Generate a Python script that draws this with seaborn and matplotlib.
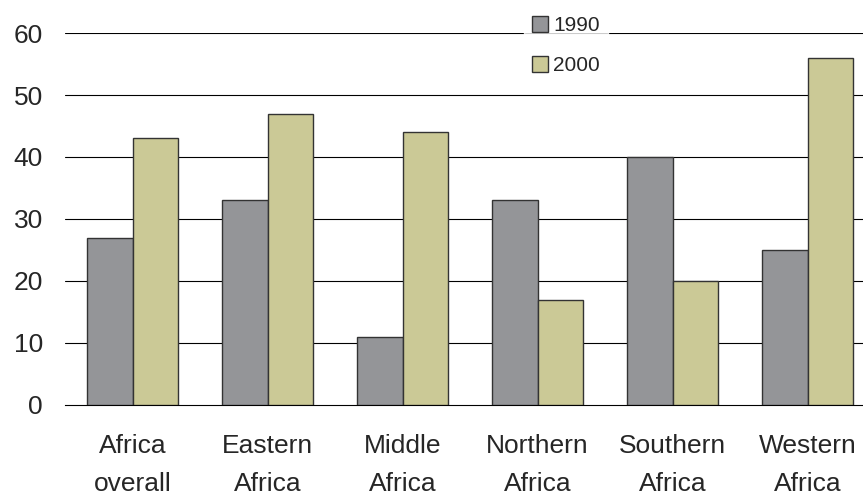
import numpy as np
import pandas as pd
import seaborn as sns
import matplotlib.pyplot as plt
from matplotlib.ticker import FixedLocator

regions = ['Africa\noverall', 'Eastern\nAfrica', 'Middle\nAfrica',
           'Northern\nAfrica', 'Southern\nAfrica', 'Western\nAfrica']
values_1990 = [27, 33, 11, 33, 40, 25]
values_2000 = [43, 47, 44, 17, 20, 56]
years = ['1990', '2000']
colors = ['#949598', '#CBC996']

df = pd.DataFrame({
    'region': regions * 2,
    'year': [years[0]] * len(regions) + [years[1]] * len(regions),
    'value': values_1990 + values_2000,
})

sns.set_style('white')
plt.rcParams['font.family'] = ['Liberation Sans', 'DejaVu Sans']

fig = plt.figure(figsize=(8.63, 5.0), dpi=100)
ax = fig.add_axes([65 / 863, 95 / 500, 810 / 863, 372 / 500])

sns.barplot(data=df, x='region', y='value', hue='year', palette=colors,
            width=0.675, edgecolor='#333333', linewidth=1, saturation=1,
            ax=ax, zorder=3)

ax.set_ylim(0, 60)
ax.set_xlim(-0.5, len(regions) - 0.5)
ax.set_yticks(range(0, 61, 10))
ax.tick_params(axis='y', length=0, pad=16, labelsize=19)
for y in range(10, 61, 10):
    ax.axhline(y, color='black', linewidth=0.8, zorder=1)

# category boundaries as tick marks, labels on minor ticks
ax.set_xticks(np.arange(-0.5, len(regions), 1.0))
ax.set_xticklabels([''] * (len(regions) + 1))
ax.xaxis.set_minor_locator(FixedLocator(range(len(regions))))
ax.set_xticklabels(regions, minor=True, linespacing=1.75)
ax.tick_params(axis='x', which='major', length=7, width=0.8, color='black', direction='out')
ax.tick_params(axis='x', which='minor', length=0, pad=21, labelsize=19)
ax.set_xlabel('')
ax.set_ylabel('')

for side in ['left', 'right', 'top']:
    ax.spines[side].set_visible(False)
ax.spines['bottom'].set_color('black')
ax.spines['bottom'].set_linewidth(0.8)

handles, labels = ax.get_legend_handles_labels()
leg = ax.legend(handles, labels, loc='upper left',
                bbox_to_anchor=(524 / 863, 1 - 8 / 500), bbox_transform=fig.transFigure,
                frameon=True, fontsize=15, handlelength=0.75, handleheight=0.75,
                handletextpad=0.25, labelspacing=1.0, borderpad=0.4,
                borderaxespad=0)
leg.get_frame().set_facecolor('white')
leg.get_frame().set_edgecolor('white')
leg.set_zorder(5)

fig.savefig('out.png', dpi=100)
